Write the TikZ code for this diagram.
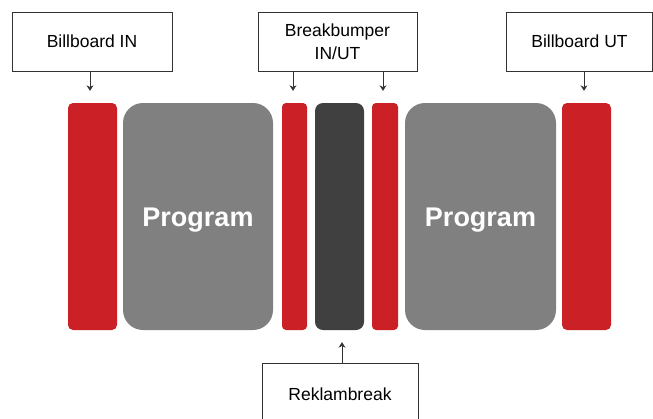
\documentclass[tikz,border=0pt]{standalone}
\usepackage{fontspec}
\setmainfont{Liberation Sans}
\usetikzlibrary{arrows.meta}
\definecolor{barred}{HTML}{CC2027}
\definecolor{prggray}{HTML}{808080}
\definecolor{brkdark}{HTML}{404040}
\definecolor{linegray}{HTML}{333333}
\tikzset{
  labelbox/.style = {draw = linegray, line width = 0.9pt, fill = white, font = \fontsize{17.5}{23}\selectfont, align = center, inner sep = 0pt},
  slot/.style = {fill = #1, minimum height = 227pt, inner sep = 0pt},
  prgtext/.style = {text = white, font = \fontsize{27}{30}\selectfont\bfseries, yshift = -4pt},
  pointer/.style = {draw = linegray, line width = 0.8pt, -{Stealth[length = 5.5pt, width = 7pt]}, shorten > = 12pt}
}
\begin{document}
\begin{tikzpicture}[x = 1pt, y = -1pt]
\useasboundingbox[fill = white] (0, 0) rectangle (653, 418);
% the strip of slots
\node[slot = barred, minimum width = 49pt, rounded corners = 5pt] (r1) at (92.5, 216.5) {};
\node[slot = prggray, minimum width = 150pt, rounded corners = 20pt, label = {[prgtext]center:Program}] (p1) at (198, 216.5) {};
\node[slot = barred, minimum width = 25pt, rounded corners = 4pt] (r2) at (294.5, 216.5) {};
\node[slot = brkdark, minimum width = 49pt, rounded corners = 8pt] (dk) at (339.5, 216.5) {};
\node[slot = barred, minimum width = 26pt, rounded corners = 4pt] (r3) at (385, 216.5) {};
\node[slot = prggray, minimum width = 151pt, rounded corners = 20pt, label = {[prgtext]center:Program}] (p2) at (480.5, 216.5) {};
\node[slot = barred, minimum width = 49pt, rounded corners = 5pt] (r4) at (586.5, 216.5) {};
% the labels
\node[labelbox, minimum width = 160pt, minimum height = 59pt] (billin) at (92, 41.5) {Billboard IN};
\node[labelbox, minimum width = 159pt, minimum height = 59pt] (bumper) at (337.5, 41.5) {Breakbumper\\IN/UT};
\node[labelbox, minimum width = 146pt, minimum height = 59pt] (billut) at (579.5, 41.5) {Billboard UT};
\node[labelbox, minimum width = 156pt, minimum height = 62pt] (reklam) at (340, 394) {Reklambreak};
% pointers
\draw[pointer] (90, 0 |- billin.south) -- (90, 0 |- r1.north);
\draw[pointer] (293, 0 |- bumper.south) -- (293, 0 |- r2.north);
\draw[pointer] (383, 0 |- bumper.south) -- (383, 0 |- r3.north);
\draw[pointer] (584, 0 |- billut.south) -- (584, 0 |- r4.north);
\draw[pointer] (342, 0 |- reklam.north) -- (342, 0 |- dk.south);
\end{tikzpicture}
\end{document}
